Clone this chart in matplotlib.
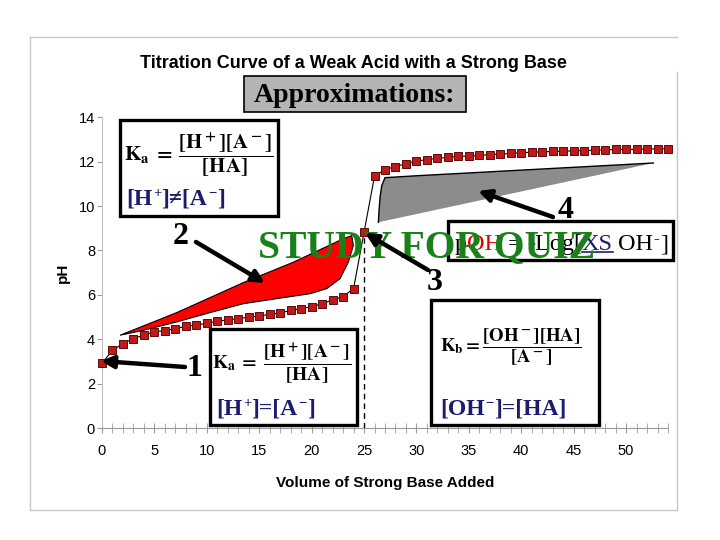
import matplotlib
matplotlib.use("Agg")
import matplotlib.pyplot as plt
from matplotlib.patches import Rectangle, FancyArrowPatch
from matplotlib.lines import Line2D

W, H = 720, 540

# titration curve (mL of base, pH)
volume = list(range(55))
ph = [2.92, 3.50, 3.80, 4.03, 4.19, 4.33, 4.39, 4.48, 4.58, 4.64,
      4.72, 4.81, 4.87, 4.93, 4.99, 5.05, 5.12, 5.18, 5.30, 5.38,
      5.47, 5.60, 5.77, 5.92, 6.28, 8.82,
      11.35, 11.64, 11.78, 11.91, 12.03, 12.09, 12.15, 12.19, 12.24, 12.25,
      12.28, 12.32, 12.34, 12.37, 12.40, 12.43, 12.44, 12.46, 12.47, 12.49,
      12.50, 12.52, 12.53, 12.55, 12.55, 12.56, 12.57, 12.58, 12.58]
eq_volume = 25
eq_ph = 8.82

# buffer region (red) and excess base region (grey), data coordinates
buffer_x = [1.72, 7.13, 13.48, 18.25, 23.03, 23.83, 23.98, 23.50, 22.71,
            21.44, 19.85, 16.67, 13.48, 10.31, 7.13, 3.94]
buffer_y = [4.18, 5.20, 6.55, 7.47, 8.53, 8.67, 8.22, 7.47, 6.73,
            6.28, 6.05, 5.83, 5.60, 5.20, 4.78, 4.40]
excess_x = [27.0, 30.18, 52.6, 26.37, 26.43, 26.53, 26.69]
excess_y = [11.28, 11.37, 11.94, 9.27, 9.80, 10.40, 10.92]

xticks = [0, 5, 10, 15, 20, 25, 30, 35, 40, 45, 50]
yticks = [0, 2, 4, 6, 8, 10, 12, 14]

title = "Titration Curve of a Weak Acid with a Strong Base"
xlabel = "Volume of Strong Base Added"
ylabel = "pH"

plt.rcParams['font.family'] = ['Liberation Sans', 'DejaVu Sans']
plt.rcParams['mathtext.fontset'] = 'stix'
plt.rcParams['mathtext.default'] = 'bf'

NAVY = '#1c1c6c'
SERIF = ['Liberation Serif', 'DejaVu Serif']
MINUS = '\u2212'


def fx(px):
    return px / W


def fy(py):
    return 1 - py / H


def box(fig, x0, y0, x1, y1, lw=2.4, fc='white', z=5):
    r = Rectangle((fx(x0), fy(y1)), fx(x1) - fx(x0), fy(y0) - fy(y1),
                  transform=fig.transFigure, fc=fc, ec='black', lw=lw, zorder=z)
    fig.add_artist(r)


def arrow(fig, tail, tip, z=7):
    a = FancyArrowPatch((fx(tail[0]), fy(tail[1])), (fx(tip[0]), fy(tip[1])),
                        transform=fig.transFigure, arrowstyle='-|>',
                        mutation_scale=18, lw=3.2, color='black',
                        shrinkA=0, shrinkB=0, zorder=z)
    fig.add_artist(a)


def rich_text(fig, px, py, pieces, size, weight='normal', color='black'):
    # pieces: (text, colour or None, gap before in px, raise in px, scale, underline)
    renderer = fig.canvas.get_renderer()
    x = px
    for s, c, gap, rise, scale, under in pieces:
        x += gap
        c = c or color
        t = fig.text(fx(x), fy(py - rise), s, color=c, fontsize=size * scale,
                     family=SERIF, fontweight=weight, ha='left', va='baseline',
                     zorder=6)
        bb = t.get_window_extent(renderer)
        if under:
            fig.add_artist(Line2D([bb.x0 / W, bb.x1 / W],
                                  [fy(py + 2), fy(py + 2)],
                                  transform=fig.transFigure, color=c,
                                  lw=1.2, zorder=6))
        x = bb.x1


def sup(s):
    return (s, None, 1, 8, 0.62, False)


def txt(s, gap=0):
    return (s, None, gap, 0, 1, False)


fig = plt.figure(figsize=(7.2, 5.4), dpi=100)

# light outer frame of the chart object
frame = dict(transform=fig.transFigure, color='#c8c8c8', lw=1.0, zorder=1)
fig.add_artist(Line2D([fx(30), fx(677)], [fy(37), fy(37)], **frame))
fig.add_artist(Line2D([fx(30), fx(30)], [fy(37), fy(510)], **frame))
fig.add_artist(Line2D([fx(30), fx(677)], [fy(510), fy(510)], **frame))
fig.add_artist(Line2D([fx(677), fx(677)], [fy(72), fy(510)], **frame))

ax = fig.add_axes([102 / W, 1 - 428 / H, 566 / W, 310.7 / H])
ax.set_xlim(0, 54)
ax.set_ylim(0, 14)

ax.fill(buffer_x, buffer_y, fc='#ff0000', ec='black', lw=0.8, zorder=2)
ax.fill(excess_x, excess_y, fc='#8c8c8c', ec='none', zorder=2)
ax.plot(excess_x[3:] + excess_x[:3], excess_y[3:] + excess_y[:3],
        color='black', lw=1.0, zorder=2)

ax.plot([eq_volume, eq_volume], [0, eq_ph], color='black', lw=1.0,
        ls=(0, (4, 3)), zorder=3)
ax.plot(volume, ph, color='black', lw=0.8, marker='s', ms=5.2,
        mfc='#c01818', mec='#5a0a0a', mew=0.7, clip_on=False, zorder=4)

for side in ('top', 'right'):
    ax.spines[side].set_visible(False)
ax.spines['left'].set_color('#c0c0c0')
ax.spines['bottom'].set_color('#9a9a9a')
ax.set_xticks(xticks)
ax.set_xticks(volume, minor=True)
ax.set_yticks(yticks)
ax.tick_params(axis='x', which='both', direction='inout', length=7,
               color='#9a9a9a', labelsize=10.5, pad=8)
ax.tick_params(axis='y', direction='out', length=3.5, color='#9a9a9a',
               labelsize=10.5, pad=1.5)
ax.set_xlabel(xlabel, fontsize=11, fontweight='bold', labelpad=13)
ax.set_ylabel(ylabel, fontsize=11, fontweight='bold', labelpad=6)

fig.text(fx(353), fy(63), title, ha='center', va='center', fontsize=13,
         fontweight='bold')

# "Approximations:" banner
box(fig, 244, 76, 466, 112, lw=1.2, fc='#b4b4b4')
fig.text(fx(355), fy(95), "Approximations:", ha='center', va='center',
         fontsize=20, fontweight='bold', family=SERIF, zorder=6)

# weak acid box (top left)
box(fig, 120, 120, 278, 216)
fig.text(fx(124), fy(155), r'$K_a\;=\;\dfrac{[H^+][A^-]}{[HA]}$', ha='left',
         va='center', fontsize=15, zorder=6)
rich_text(fig, 126, 205, [txt("[H"), sup("+"), txt("]\u2260[A"), sup(MINUS),
                          txt("]")], 17, weight='bold', color=NAVY)

# half equivalence box (bottom)
box(fig, 210, 329, 357, 425)
fig.text(fx(212), fy(363), r'$K_a\;=\;\dfrac{[H^+][A^-]}{[HA]}$', ha='left',
         va='center', fontsize=14, zorder=6)
rich_text(fig, 216, 415, [txt("[H"), sup("+"), txt("]=[A"), sup(MINUS),
                          txt("]")], 17, weight='bold', color=NAVY)

# equivalence box (bottom right)
box(fig, 431, 300, 599, 425)
fig.text(fx(440), fy(347), r'$K_b = \dfrac{[OH^-][HA]}{[A^-]}$', ha='left',
         va='center', fontsize=13.5, zorder=6)
rich_text(fig, 440, 415, [txt("[OH"), sup(MINUS), txt("]=[HA]")], 17,
          weight='bold', color=NAVY)

# excess base box
box(fig, 448, 221, 673, 260)
rich_text(fig, 455, 250, [
    ("p", 'black', 0, 0, 1, False),
    ("OH", '#e00000', 0, 0, 1, False),
    ("=", 'black', 6, 0, 1, False),
    ("-Log[", 'black', 5, 0, 1, False),
    ("XS", NAVY, 0, 0, 1, True),
    ("OH", 'black', 5, 0, 1, False),
    ("-", 'black', 1, 7, 0.7, False),
    ("]", 'black', 1, 0, 1, False),
], 17.5)

# numbered pointers
numfont = dict(fontsize=23, fontweight='bold', family=SERIF, ha='center',
               va='center', zorder=7)
fig.text(fx(181), fy(237), "2", **numfont)
arrow(fig, (196, 242), (265, 283))
fig.text(fx(566), fy(211), "4", **numfont)
arrow(fig, (553, 217), (478, 191))
fig.text(fx(194), fy(368), "1", **numfont)
arrow(fig, (185, 367), (101, 361))
fig.text(fx(435), fy(283), "3", **numfont)

fig.text(fx(258), fy(257), "STUDY FOR QUIZ", ha='left', va='baseline',
         fontsize=28.5, fontweight='bold', family=SERIF, color='#1a801a',
         zorder=8)
arrow(fig, (428, 270), (365, 233), z=9)

fig.savefig("out.png", dpi=100)
